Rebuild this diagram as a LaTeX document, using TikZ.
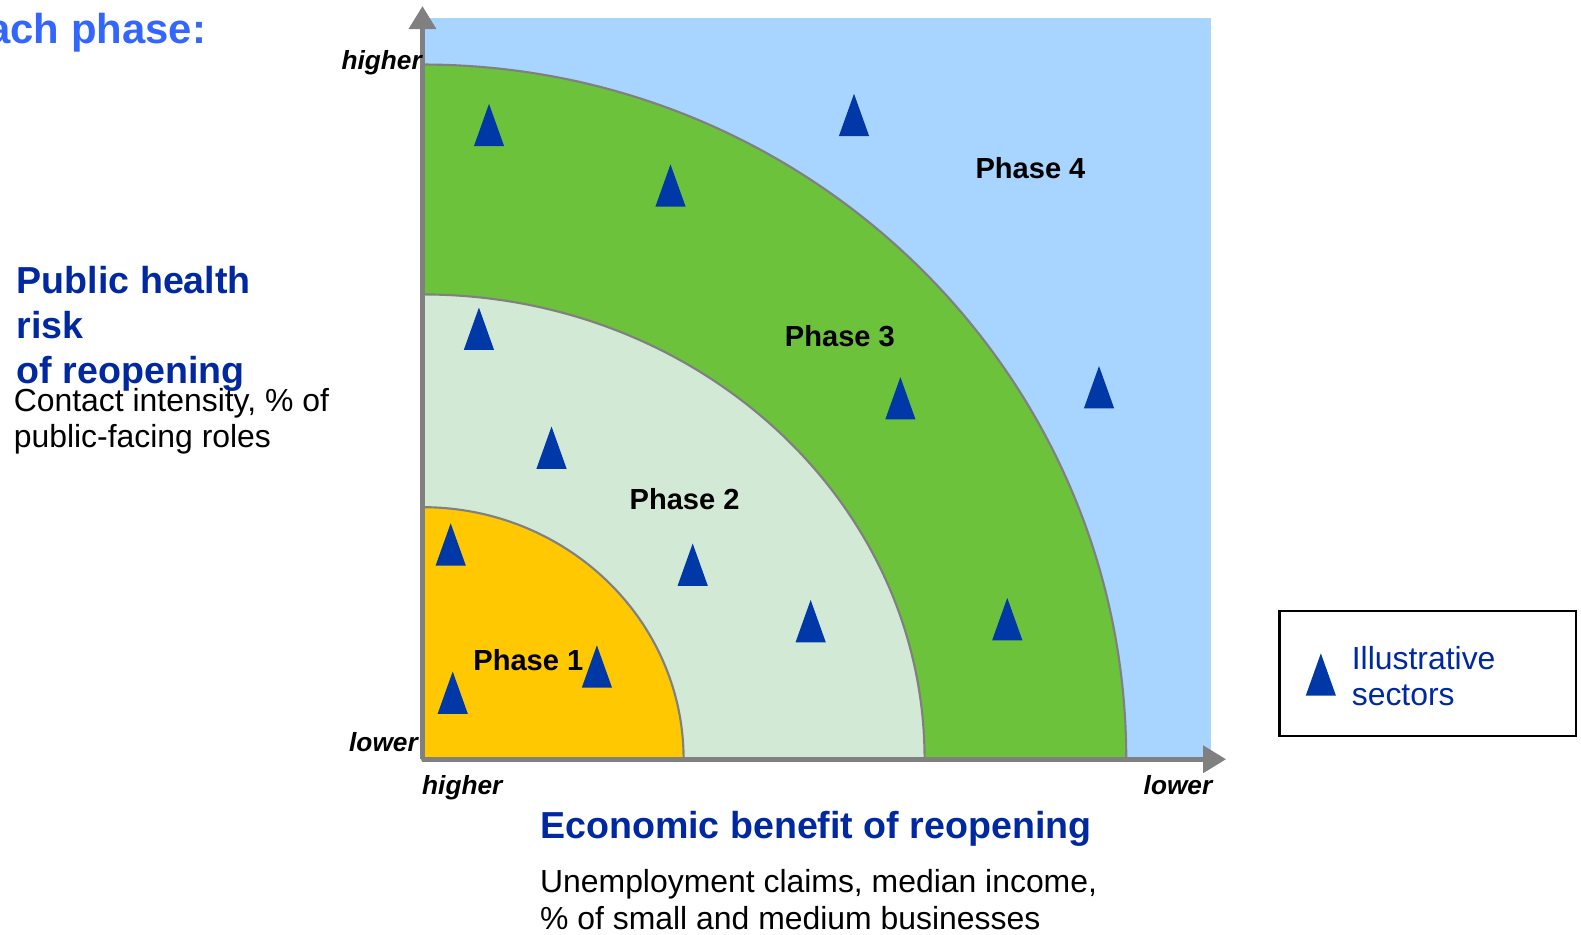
\documentclass[tikz,border=0pt]{standalone}
\usepackage{fontspec}
\setmainfont{Liberation Sans}
\usepackage{xcolor}
\usetikzlibrary{arrows.meta,positioning}

\definecolor{skyzone}{RGB}{168,213,255}
\definecolor{greenzone}{RGB}{108,194,58}
\definecolor{palezone}{RGB}{210,234,213}
\definecolor{yellowzone}{RGB}{255,200,0}
\definecolor{sectorblue}{RGB}{0,56,168}
\definecolor{titleblue}{RGB}{51,102,255}
\definecolor{darkblue}{RGB}{0,40,160}
\definecolor{axisgray}{RGB}{128,128,128}

\newcommand{\fs}[2]{\fontsize{#1}{#2}\selectfont}

\begin{document}
\begin{tikzpicture}[x=0.01cm, y=-0.01cm]
	\tikzset{
		zone/.style={draw=axisgray, line width=0.6pt},
		axis/.style={axisgray, line width=1.4pt, -{Triangle[length=6.5pt, width=7.5pt]}},
		sector/.style={fill=sectorblue},
		phase/.style={font=\fs{8.2}{10}\bfseries, inner sep=0pt},
		tick/.style={font=\fs{7.4}{9}\bfseries\itshape, inner sep=0pt},
		heading/.style={font=\fs{10.6}{12.8}\bfseries, text=darkblue, inner sep=0pt, align=left},
		note/.style={font=\fs{9}{10.3}, inner sep=0pt, align=left}
	}
	\useasboundingbox (0,0) rectangle (1568,927);
	
	% zones
	\fill[skyzone] (419,18) rectangle (1201,753);
	\filldraw[zone, fill=greenzone] (419,753) -- (1117,753) arc[start angle=0, end angle=-90, x radius=698, y radius=689] -- cycle;
	\filldraw[zone, fill=palezone] (419,753) -- (917,753) arc[start angle=0, end angle=-90, x radius=498, y radius=461] -- cycle;
	\filldraw[zone, fill=yellowzone] (419,753) -- (678,753) arc[start angle=0, end angle=-90, x radius=259, y radius=250] -- cycle;
	
	% axes
	\coordinate (origin) at (419,753);
	\coordinate (ytip) at (419,6);
	\coordinate (xtip) at (1216,753);
	\draw[axis] (origin) -- (ytip);
	\draw[axis] (origin) -- (xtip);
	
	% sectors
	\foreach \x/\y in {485/145, 847/135, 665/205, 475/347, 893/416, 1090/405, 547/465,
		447/561, 687/581, 804/637, 999/635, 592/682, 449/708}
		\fill[sector] (\x-15,\y) -- (\x+15,\y) -- (\x,\y-42) -- cycle;
	
	% phase labels
	\node[phase] (p4) at (1022,167) {Phase 4};
	\node[phase] (p3) at (833,333) {Phase 3};
	\node[phase] (p2) at (679,495) {Phase 2};
	\node[phase] (p1) at (524,655) {Phase 1};
	
	% axis ends
	\node[tick, anchor=base east] (yhigh) at (419,69) {higher};
	\node[tick, anchor=base east] (ylow) at (415,745) {lower};
	\node[tick, anchor=base west] (xhigh) at (418,788) {higher};
	\node[tick, anchor=base east] (xlow) at (1203,788) {lower};
	
	% titles
	\node[font=\fs{11.8}{14}\bfseries, text=titleblue, inner sep=0pt, anchor=base east] (phasetitle) at (205,43) {ach phase:};
	\node[heading, anchor=north west] (health) at (16,263) {Public health\\risk\\of reopening};
	\node[note, anchor=north west] (contact) at (13,384) {Contact intensity, \% of\\public-facing roles};
	\node[heading, anchor=base west] (benefit) at (535,832) {Economic benefit of reopening};
	\node[note, anchor=north west] (claims) at (535,862) {Unemployment claims, median income,\\\% of small and medium businesses};
	
	% legend
	\draw[line width=0.8pt] (1269,606) rectangle (1563,730);
	\fill[sector] (1295,690) -- (1325,690) -- (1310,648) -- cycle;
	\node[note, text=darkblue, anchor=north west] (legend) at (1340,640) {Illustrative\\sectors};
\end{tikzpicture}
\end{document}
